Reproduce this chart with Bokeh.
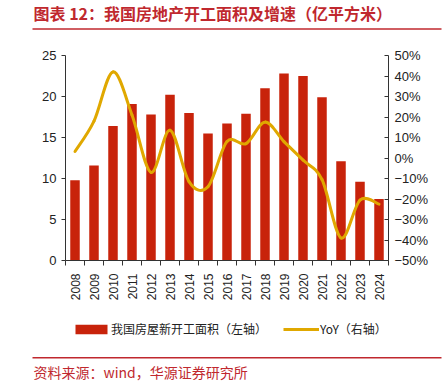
import numpy as np
from bokeh.plotting import figure
from bokeh.layouts import column
from bokeh.models import Range1d, LinearAxis, FixedTicker, Legend, LegendItem
from bokeh.core.properties import value
from bokeh.embed import file_html
from bokeh.resources import INLINE

# ---- data ----
years = ["2008", "2009", "2010", "2011", "2012", "2013", "2014", "2015", "2016",
         "2017", "2018", "2019", "2020", "2021", "2022", "2023", "2024"]
new_start_area = [9.8, 11.6, 16.4, 19.1, 17.8, 20.2, 18.0, 15.5, 16.7,
                  17.9, 21.0, 22.8, 22.5, 19.9, 12.1, 9.6, 7.5]          # 亿平方米
yoy_pct = [3.2, 18.0, 42.0, 21.0, -7.0, 13.5, -11.5, -14.0, 8.0,
           7.0, 17.5, 8.0, -1.0, -10.5, -39.0, -20.5, -22.5]            # %
left_ticks = [0, 5, 10, 15, 20, 25]
right_ticks = [-50, -40, -30, -20, -10, 0, 10, 20, 30, 40, 50]
right_tick_labels = ["\u221250%", "\u221240%", "\u221230%", "\u221220%", "\u221210%",
                     "0%", "10%", "20%", "30%", "40%", "50%"]
title_text = "图表 12：我国房地产开工面积及增速（亿平方米）"
source_text = "资料来源：wind，华源证券研究所"
bar_label = "我国房屋新开工面积（左轴）"
line_label = "YoY（右轴）"

RED = "#C8230B"
GOLD = "#E0A800"
TITLE_RED = "#C0282E"
AXIS_C = "#333333"
TXT_C = "#222222"
CJK = "Noto Sans CJK SC"

W = 444
HEAD_H, MAIN_H, FOOT_H = 30, 275, 83


def blank_panel(h):
    f = figure(width=W, height=h, output_backend="svg", toolbar_location=None,
               x_range=Range1d(0, W), y_range=Range1d(h, 0),
               x_axis_type=None, y_axis_type=None, min_border=0, frame_align=False)
    f.outline_line_color = None
    f.xgrid.visible = False
    f.ygrid.visible = False
    return f


# ---------------- header: title + red rule ----------------
head = blank_panel(HEAD_H)
head.text(x=[33], y=[12.5], text=[title_text], text_font=value(CJK),
          text_font_size=value("16px"), text_font_style="bold", text_color=TITLE_RED,
          text_baseline="middle", text_align="left")
head.line(x=[32, 441], y=[28.5, 28.5], line_color=TITLE_RED, line_width=1.5)

# ---------------- main chart ----------------
xs = list(range(len(years)))
p = figure(width=W, height=MAIN_H, output_backend="svg", toolbar_location=None,
           x_range=Range1d(-0.5, len(years) - 0.5), y_range=Range1d(0, 25),
           min_border_left=65, min_border_right=56, min_border_top=25,
           min_border_bottom=45, frame_align=False)
p.extra_y_ranges = {"yoy": Range1d(-50, 50)}
p.outline_line_color = None
p.xgrid.visible = False
p.ygrid.visible = False

p.vbar(x=xs, top=new_start_area, width=0.5, fill_color=RED, line_color=None)

# smooth (Catmull-Rom style) curve through the YoY points, drawn with bezier segments
n = len(yoy_pct)
px = np.array(xs, dtype=float)
py = np.array(yoy_pct, dtype=float)
ext_x = np.concatenate([[px[0]], px, [px[-1]]])
ext_y = np.concatenate([[py[0]], py, [py[-1]]])
x0 = px[:-1]; y0 = py[:-1]; x1 = px[1:]; y1 = py[1:]
cx0 = x0 + (ext_x[2:n + 1] - ext_x[0:n - 1]) / 6.0
cy0 = y0 + (ext_y[2:n + 1] - ext_y[0:n - 1]) / 6.0
cx1 = x1 - (ext_x[3:n + 2] - ext_x[1:n]) / 6.0
cy1 = y1 - (ext_y[3:n + 2] - ext_y[1:n]) / 6.0
p.bezier(x0=x0, y0=y0, x1=x1, y1=y1, cx0=cx0, cy0=cy0, cx1=cx1, cy1=cy1,
         y_range_name="yoy", line_color=GOLD, line_width=3, line_cap="round")

# x axis
xa = p.xaxis[0]
xa.ticker = FixedTicker(ticks=xs, minor_ticks=[i - 0.5 for i in range(len(years) + 1)])
xa.major_label_overrides = {i: years[i] for i in xs}
xa.major_tick_out = 0
xa.major_tick_in = 0
xa.minor_tick_out = 5
xa.minor_tick_in = 0
xa.minor_tick_line_color = AXIS_C
xa.axis_line_color = AXIS_C
xa.major_label_orientation = np.pi / 2
xa.major_label_standoff = 8
xa.major_label_text_font = "Liberation Sans"
xa.major_label_text_font_size = "12px"
xa.major_label_text_color = TXT_C

# left axis
ya = p.yaxis[0]
ya.ticker = FixedTicker(ticks=left_ticks)
ya.major_tick_out = 4
ya.major_tick_in = 0
ya.minor_tick_out = 0
ya.minor_tick_in = 0
ya.axis_line_color = AXIS_C
ya.major_tick_line_color = AXIS_C
ya.major_label_text_font = "Liberation Sans"
ya.major_label_text_font_size = "13px"
ya.major_label_text_color = TXT_C

# right axis
ra = LinearAxis(y_range_name="yoy", ticker=FixedTicker(ticks=right_ticks),
                major_label_overrides=dict(zip(right_ticks, right_tick_labels)),
                major_tick_in=4, major_tick_out=0, minor_tick_in=0, minor_tick_out=0,
                axis_line_color=AXIS_C, major_tick_line_color=AXIS_C,
                major_label_text_font="Liberation Sans", major_label_text_font_size="13px",
                major_label_text_color=TXT_C, major_label_standoff=6)
p.add_layout(ra, "right")

# ---------------- footer: legend, red rule, source ----------------
foot = blank_panel(FOOT_H)
# hidden legend proxies carrying the same series and styles as the chart's marks
lg_bar = foot.vbar(x=xs, top=new_start_area, width=0.5, fill_color=RED, line_color=None,
                   visible=False)
lg_line = foot.line(x=xs, y=yoy_pct, line_color=GOLD, line_width=3, visible=False)
common = dict(orientation="horizontal", glyph_height=12, padding=0, margin=0, spacing=0,
              border_line_color=None, background_fill_alpha=0, inactive_fill_alpha=0,
              label_text_font=CJK, label_text_font_size="12px", label_text_color=TXT_C)
leg1 = Legend(items=[LegendItem(label=bar_label, renderers=[lg_bar])],
              location=(71, 51), glyph_width=40, label_standoff=0, **common)
leg2 = Legend(items=[LegendItem(label=line_label, renderers=[lg_line])],
              location=(283, 51), glyph_width=36, label_standoff=1, **common)
foot.add_layout(leg1, "center")
foot.add_layout(leg2, "center")
foot.line(x=[32, 441], y=[52.3, 52.3], line_color=TITLE_RED, line_width=1.5)
foot.text(x=[33], y=[66], text=[source_text], text_font=value(CJK),
          text_font_size=value("14px"), text_color=TITLE_RED,
          text_baseline="middle", text_align="left")

layout = column(head, p, foot, spacing=0)
open("out.html", "w").write(file_html(layout, INLINE))
